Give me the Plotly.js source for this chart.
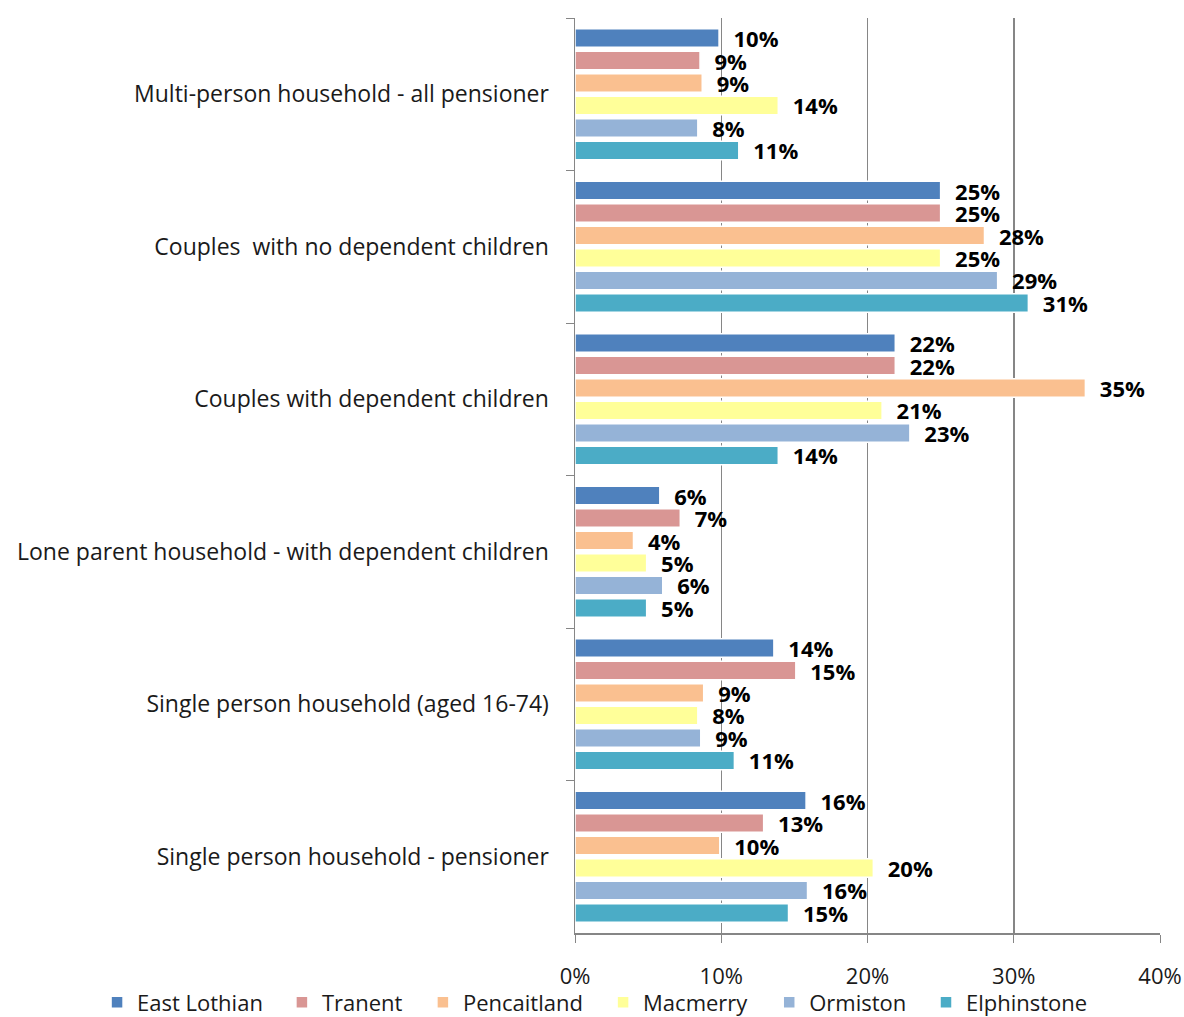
<!DOCTYPE html>
<html>
<head>
<meta charset="utf-8">
<script src="https://cdn.plot.ly/plotly-3.0.1.min.js"></script>
<style>html,body{margin:0;padding:0;background:#fff;}#chart{width:1184px;height:1017px;}</style>
</head>
<body>
<div id="chart"></div>
<script>
const categories = [
  "Multi-person household - all pensioner",
  "Couples  with no dependent children",
  "Couples with dependent children",
  "Lone parent household - with dependent children",
  "Single person household (aged 16-74)",
  "Single person household - pensioner"
];
const seriesNames = ["East Lothian", "Tranent", "Pencaitland", "Macmerry", "Ormiston", "Elphinstone"];
const eastLothian = [9.85, 25.0, 21.9, 5.8, 13.6, 15.8];
const tranent     = [8.55, 25.0, 21.9, 7.2, 15.1, 12.9];
const pencaitland = [8.7, 28.0, 34.9, 4.0, 8.8, 9.9];
const macmerry    = [13.9, 25.0, 21.0, 4.9, 8.4, 20.4];
const ormiston    = [8.4, 28.9, 22.9, 6.0, 8.6, 15.9];
const elphinstone = [11.2, 31.0, 13.9, 4.9, 10.9, 14.6];
const colors = ["#4F81BD", "#D99694", "#FAC090", "#FFFF99", "#95B3D7", "#4BACC6"];
const xTicks = [0, 10, 20, 30, 40];

const seriesValues = [eastLothian, tranent, pencaitland, macmerry, ormiston, elphinstone];
const FONT = "'Open Sans', sans-serif";

// legend entry left edges (paper fraction, relative to plot area)
const legendX = [-0.817, -0.501, -0.260, 0.048, 0.332, 0.600];

const traces = seriesNames.map((name, i) => ({
  type: "bar",
  orientation: "h",
  name: name,
  y: categories,
  x: seriesValues[i],
  legend: i === 0 ? "legend" : "legend" + (i + 1),
  marker: {color: colors[i], line: {color: "#ffffff", width: 1.5}},
  texttemplate: "\u00a0\u00a0%{x:.0f}%",
  textposition: "outside",
  constraintext: "none",
  cliponaxis: false,
  textfont: {family: FONT, size: 22, color: "#000000", weight: "bold"},
  hoverinfo: "x+name"
}));

const layout = {
  width: 1184,
  height: 1017,
  margin: {l: 575, r: 24, t: 18, b: 84, autoexpand: false},
  paper_bgcolor: "#ffffff",
  plot_bgcolor: "#ffffff",
  font: {family: FONT, size: 22, color: "#1a1a1a"},
  barmode: "group",
  bargap: 0.115,
  bargroupgap: 0.18,
  showlegend: true,
  xaxis: {
    range: [0, 40],
    tickvals: xTicks,
    ticktext: xTicks.map(v => v + "%"),
    showgrid: true,
    gridcolor: "#868686",
    gridwidth: 1.5,
    zeroline: false,
    showline: true,
    linecolor: "#868686",
    linewidth: 1.5,
    ticks: "outside",
    ticklen: 8,
    tickcolor: "#868686",
    ticklabelstandoff: 15,
    tickfont: {family: FONT, size: 22, color: "#1a1a1a"}
  },
  yaxis: {
    type: "category",
    autorange: "reversed",
    showgrid: false,
    showline: true,
    linecolor: "#868686",
    linewidth: 1.5,
    ticks: "outside",
    tickson: "boundaries",
    ticklen: 8,
    tickcolor: "#868686",
    ticklabelstandoff: 20,
    tickfont: {family: FONT, size: 23, color: "#1a1a1a"}
  }
};

legendX.forEach((lx, i) => {
  const key = i === 0 ? "legend" : "legend" + (i + 1);
  layout[key] = {
    orientation: "h",
    x: lx, y: -0.053, xanchor: "left", yanchor: "top",
    font: {family: FONT, size: 22, color: "#1a1a1a"},
    itemwidth: 30,
    bgcolor: "rgba(0,0,0,0)"
  };
});

Plotly.newPlot("chart", traces, layout, {displayModeBar: false, staticPlot: true});
</script>
</body>
</html>
